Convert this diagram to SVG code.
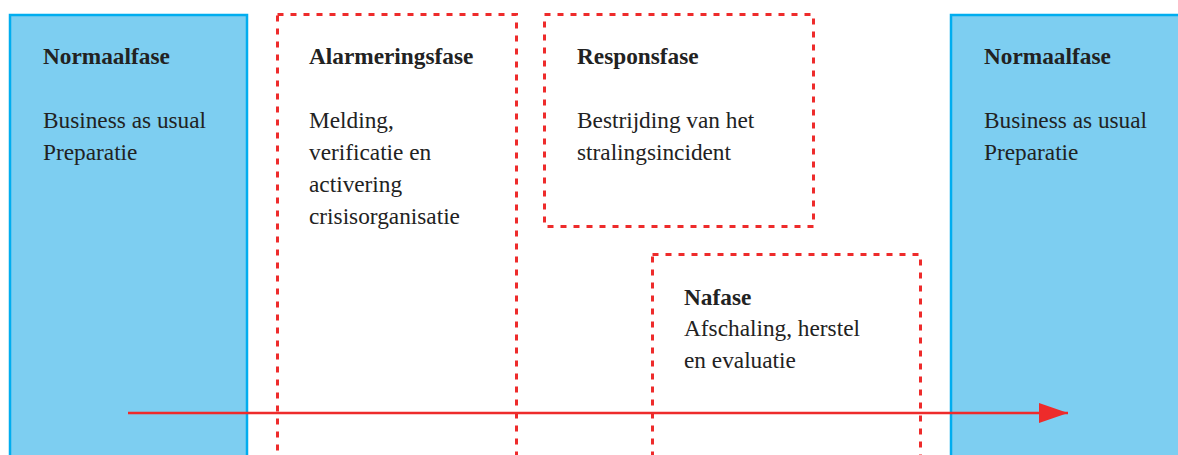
<svg xmlns="http://www.w3.org/2000/svg" width="1178" height="455" viewBox="0 0 1178 455">
<defs>
<style>
.blue{fill:#7dcef1;stroke:#00adef;stroke-width:2.5}
.dash{fill:none;stroke:#ee2b2b;stroke-width:3;stroke-dasharray:6 7}
text{font-family:"Liberation Serif","DejaVu Serif",serif;font-size:23.3px;fill:#222}
.b{font-weight:bold}
</style>
<marker id="ah" markerWidth="30" markerHeight="20" refX="29" refY="10" orient="auto" markerUnits="userSpaceOnUse">
<path d="M0,0 L29,10 L0,20 Z" fill="#ee2b2b"/>
</marker>
</defs>
<g id="normaal1">
<rect class="blue" x="10" y="15" width="237" height="450"/>
<text x="43" y="64" class="b">Normaalfase</text>
<text x="43" y="128">Business as usual</text>
<text x="43" y="160">Preparatie</text>
</g>
<g id="alarmering">
<rect class="dash" x="277.5" y="14.5" width="239" height="460"/>
<text x="309" y="64" class="b">Alarmeringsfase</text>
<text x="309" y="128">Melding,</text>
<text x="309" y="160">verificatie en</text>
<text x="309" y="192">activering</text>
<text x="309" y="224">crisisorganisatie</text>
</g>
<g id="respons">
<rect class="dash" x="544.5" y="14.5" width="269" height="212"/>
<text x="577" y="64" class="b">Responsfase</text>
<text x="577" y="128">Bestrijding van het</text>
<text x="577" y="160">stralingsincident</text>
</g>
<g id="nafase">
<rect class="dash" x="652.5" y="254.5" width="268" height="230"/>
<text x="684" y="305" class="b">Nafase</text>
<text x="684" y="336">Afschaling, herstel</text>
<text x="684" y="368">en evaluatie</text>
</g>
<g id="normaal2">
<rect class="blue" x="951" y="15" width="240" height="450"/>
<text x="984" y="64" class="b">Normaalfase</text>
<text x="984" y="128">Business as usual</text>
<text x="984" y="160">Preparatie</text>
</g>
<g id="connectors">
<line x1="128" y1="413" x2="1068" y2="413" stroke="#ee2b2b" stroke-width="2.5" marker-end="url(#ah)"/>
</g>
</svg>
